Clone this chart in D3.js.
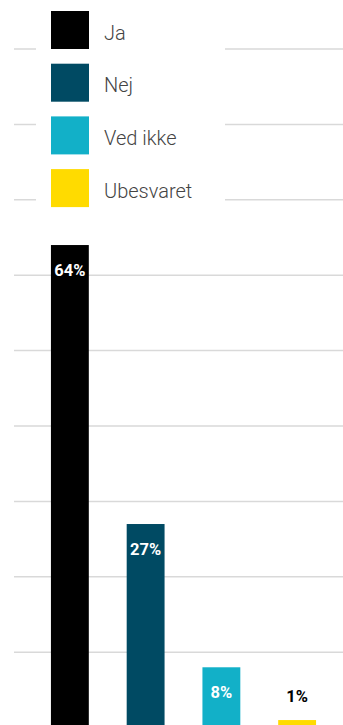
<!DOCTYPE html>
<html>
<head>
<meta charset="utf-8">
<script src="https://cdn.jsdelivr.net/npm/d3@7"></script>
<style>
  html, body { margin: 0; padding: 0; background: #fff; }
  svg { display: block; }
</style>
</head>
<body>
<div id="chart"></div>
<script>
// Survey answers, share of respondents in percent
const categories = ["Ja", "Nej", "Ved ikke", "Ubesvaret"];
const values = [64, 27, 8, 1];
const colors = ["#000000", "#004a63", "#12b0c8", "#ffdb00"];
const gridTicks = [10, 20, 30, 40, 50, 60, 70, 80, 90, 100];

const width = 343, height = 725;

const svg = d3.select("#chart").append("svg")
  .attr("width", width)
  .attr("height", height);

const x = d3.scaleBand()
  .domain(categories)
  .range([32, 335])
  .paddingInner(0.5)
  .paddingOuter(0.25);

const y = d3.scaleLinear()
  .domain([0, 100])
  .range([727.6, -26.4]);

// horizontal gridlines
svg.append("g")
  .selectAll("line")
  .data(gridTicks)
  .join("line")
  .attr("x1", 14)
  .attr("x2", width)
  .attr("y1", d => y(d))
  .attr("y2", d => y(d))
  .attr("stroke", "#d9d9d9")
  .attr("stroke-width", 1.5);

// bars
svg.append("g")
  .selectAll("rect")
  .data(categories)
  .join("rect")
  .attr("x", d => x(d))
  .attr("width", x.bandwidth())
  .attr("y", (d, i) => y(values[i]))
  .attr("height", (d, i) => y(0) - y(values[i]))
  .attr("fill", (d, i) => colors[i]);

// value labels: inside tall bars, above short ones
svg.append("g")
  .selectAll("text")
  .data(categories)
  .join("text")
  .attr("x", d => x(d) + x.bandwidth() / 2)
  .attr("y", (d, i) => {
    const h = y(0) - y(values[i]);
    return h > 40 ? y(values[i]) + 31 : y(values[i]) - 18;
  })
  .attr("text-anchor", "middle")
  .attr("font-family", "Roboto, sans-serif")
  .attr("font-weight", 700)
  .attr("font-size", 16.5)
  .attr("fill", (d, i) => (y(0) - y(values[i]) > 40 ? "#ffffff" : "#000000"))
  .text((d, i) => values[i] + "%");

// legend panel
const legend = svg.append("g");
legend.append("rect")
  .attr("x", 36)
  .attr("y", 0)
  .attr("width", 189)
  .attr("height", 215)
  .attr("fill", "#ffffff");

const item = legend.selectAll("g.item")
  .data(categories)
  .join("g")
  .attr("class", "item")
  .attr("transform", (d, i) => `translate(51, ${11 + i * 52.7})`);

item.append("rect")
  .attr("width", 38)
  .attr("height", 38)
  .attr("fill", (d, i) => colors[i]);

item.append("text")
  .attr("x", 53)
  .attr("y", 28.5)
  .attr("font-family", "Roboto, sans-serif")
  .attr("font-weight", 300)
  .attr("font-size", 20)
  .attr("fill", "#444444")
  .text(d => d);
</script>
</body>
</html>
